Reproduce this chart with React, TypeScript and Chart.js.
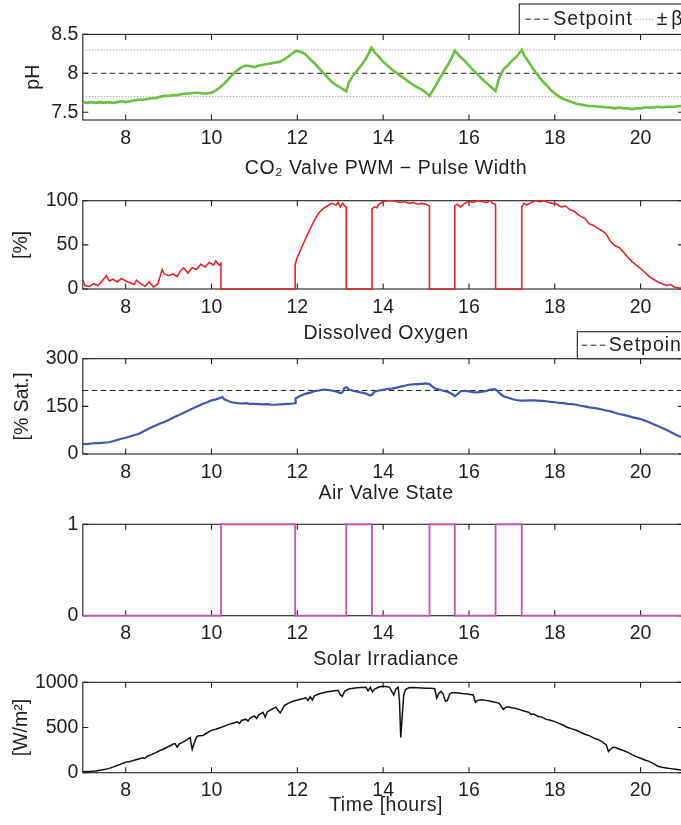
import React, { useEffect, useRef } from 'react';
import { Chart, registerables } from 'chart.js';

Chart.register(...registerables);

// ---------------- data ----------------
const TIME_MIN = 7;
const TIME_MAX = 21;
const xTickValues = [8, 10, 12, 14, 16, 18, 20];
const xTickLabels = ['8', '10', '12', '14', '16', '18', '20'];

const phTicks = [7.5, 8, 8.5];
const phTickLabels = ['7.5', '8', '8.5'];
const pwmTicks = [0, 50, 100];
const pwmTickLabels = ['0', '50', '100'];
const doTicks = [0, 150, 300];
const doTickLabels = ['0', '150', '300'];
const valveTicks = [0, 1];
const valveTickLabels = ['0', '1'];
const solarTicks = [0, 500, 1000];
const solarTickLabels = ['0', '500', '1000'];

const phSetpoint = 8;
const phBetaUpper = 8.3;
const phBetaLower = 7.7;
const doSetpoint = 200;

type Pair = [number, number];

const phSeries: Pair[] = [
  [7.0, 7.63], [7.1, 7.62], [7.2, 7.63], [7.3, 7.62], [7.4, 7.63], [7.5, 7.62], [7.6, 7.63], [7.7, 7.62],
  [7.8, 7.63], [7.9, 7.64], [8.0, 7.63], [8.1, 7.64], [8.2, 7.65], [8.3, 7.66], [8.4, 7.66], [8.5, 7.67],
  [8.6, 7.68], [8.7, 7.68], [8.8, 7.70], [8.9, 7.71], [9.0, 7.71], [9.1, 7.72], [9.2, 7.72], [9.3, 7.73],
  [9.4, 7.74], [9.5, 7.74], [9.6, 7.75], [9.7, 7.75], [9.8, 7.74], [9.9, 7.74], [10.0, 7.75], [10.1, 7.78],
  [10.2, 7.82], [10.3, 7.87], [10.4, 7.93], [10.5, 7.99], [10.6, 8.04], [10.7, 8.08], [10.8, 8.10], [10.9, 8.09],
  [11.0, 8.08], [11.1, 8.10], [11.2, 8.11], [11.3, 8.12], [11.4, 8.13], [11.5, 8.14], [11.6, 8.15], [11.7, 8.18],
  [11.8, 8.22], [11.9, 8.26], [11.97, 8.29], [12.1, 8.27], [12.2, 8.24], [12.3, 8.18], [12.4, 8.13], [12.5, 8.07],
  [12.6, 8.01], [12.7, 7.95], [12.8, 7.89], [12.9, 7.85], [13.0, 7.82], [13.14, 7.77], [13.2, 7.88], [13.3, 7.97],
  [13.4, 8.04], [13.5, 8.11], [13.6, 8.19], [13.73, 8.33], [13.8, 8.27], [13.9, 8.21], [14.0, 8.15], [14.1, 8.10],
  [14.2, 8.05], [14.3, 8.01], [14.4, 7.97], [14.5, 7.93], [14.6, 7.89], [14.7, 7.85], [14.8, 7.82], [14.9, 7.79],
  [15.0, 7.75], [15.08, 7.71], [15.2, 7.82], [15.3, 7.92], [15.4, 8.01], [15.5, 8.10], [15.6, 8.20], [15.67, 8.29],
  [15.8, 8.21], [15.9, 8.16], [16.0, 8.10], [16.1, 8.04], [16.2, 7.99], [16.3, 7.93], [16.4, 7.88], [16.5, 7.83],
  [16.62, 7.77], [16.7, 7.93], [16.8, 8.05], [16.9, 8.10], [17.0, 8.16], [17.1, 8.21], [17.23, 8.30], [17.3, 8.22],
  [17.4, 8.14], [17.5, 8.05], [17.6, 7.98], [17.7, 7.91], [17.8, 7.85], [17.9, 7.79], [18.0, 7.74], [18.1, 7.70],
  [18.2, 7.67], [18.3, 7.65], [18.4, 7.63], [18.5, 7.61], [18.6, 7.60], [18.7, 7.59], [18.8, 7.58], [18.9, 7.58],
  [19.0, 7.57], [19.1, 7.57], [19.2, 7.56], [19.3, 7.56], [19.4, 7.55], [19.5, 7.56], [19.6, 7.55], [19.7, 7.55],
  [19.8, 7.54], [19.9, 7.55], [20.0, 7.55], [20.1, 7.56], [20.2, 7.56], [20.3, 7.56], [20.4, 7.57], [20.5, 7.56],
  [20.6, 7.57], [20.7, 7.57], [20.8, 7.57], [20.9, 7.58], [21.0, 7.58],
];

const pwmSeries: Pair[] = [
  [7.0, 10], [7.05, 4], [7.15, 3], [7.25, 6], [7.35, 4], [7.45, 9], [7.55, 15], [7.62, 9], [7.7, 11], [7.8, 8],
  [7.9, 12], [8.0, 9], [8.1, 7], [8.2, 5], [8.25, 10], [8.35, 6], [8.45, 3], [8.55, 8], [8.65, 2], [8.75, 6],
  [8.8, 14], [8.85, 22], [8.9, 17], [9.0, 15], [9.1, 17], [9.2, 14], [9.28, 21], [9.35, 24], [9.45, 18], [9.55, 24],
  [9.65, 22], [9.75, 28], [9.85, 25], [9.95, 30], [10.05, 27], [10.1, 32], [10.18, 27], [10.22, 29], [10.22, 0],
  [11.95, 0], [11.95, 28], [12.0, 36], [12.1, 47], [12.2, 58], [12.3, 68], [12.4, 78], [12.5, 86], [12.6, 91],
  [12.7, 94], [12.8, 97], [12.9, 95], [12.95, 98], [13.0, 93], [13.05, 97], [13.1, 94], [13.14, 93], [13.14, 0],
  [13.74, 0], [13.74, 91], [13.8, 93], [13.85, 92], [13.9, 96], [14.0, 99], [14.1, 100], [14.2, 100], [14.3, 99],
  [14.4, 98], [14.5, 99], [14.6, 97], [14.7, 98], [14.8, 96], [14.9, 97], [15.0, 96], [15.08, 94], [15.08, 0],
  [15.67, 0], [15.67, 94], [15.72, 96], [15.8, 93], [15.9, 97], [16.0, 99], [16.1, 98], [16.2, 100], [16.3, 99],
  [16.4, 98], [16.5, 100], [16.55, 97], [16.62, 96], [16.62, 0], [17.23, 0], [17.23, 93], [17.28, 97], [17.35, 95],
  [17.45, 98], [17.55, 100], [17.65, 99], [17.75, 100], [17.85, 98], [17.95, 97], [18.05, 96], [18.15, 93],
  [18.25, 94], [18.35, 90], [18.45, 88], [18.55, 84], [18.62, 82], [18.7, 80], [18.8, 74], [18.9, 72], [19.0, 69],
  [19.1, 66], [19.2, 62], [19.3, 54], [19.4, 49], [19.5, 47], [19.6, 42], [19.7, 36], [19.8, 31], [19.9, 27],
  [20.0, 23], [20.1, 19], [20.2, 14], [20.3, 11], [20.4, 8], [20.5, 6], [20.6, 4], [20.7, 5], [20.8, 2], [20.9, 1],
  [21.0, 1],
];

const doSeries: Pair[] = [
  [7.0, 32], [7.1, 31], [7.2, 33], [7.3, 34], [7.4, 34], [7.5, 36], [7.6, 37], [7.7, 40], [7.8, 44], [7.9, 48],
  [8.0, 51], [8.1, 55], [8.2, 60], [8.3, 63], [8.4, 70], [8.5, 77], [8.6, 84], [8.7, 90], [8.8, 96], [8.9, 101],
  [9.0, 107], [9.1, 114], [9.2, 120], [9.3, 127], [9.4, 133], [9.5, 139], [9.6, 146], [9.7, 152], [9.8, 158],
  [9.9, 163], [10.0, 169], [10.1, 172], [10.2, 176], [10.25, 180], [10.3, 172], [10.4, 166], [10.5, 162],
  [10.6, 160], [10.7, 159], [10.8, 160], [10.9, 158], [11.0, 158], [11.1, 157], [11.2, 156], [11.3, 157],
  [11.4, 155], [11.5, 155], [11.6, 156], [11.7, 157], [11.8, 158], [11.9, 159], [11.95, 160], [11.96, 175],
  [12.0, 178], [12.1, 185], [12.2, 190], [12.3, 193], [12.4, 198], [12.5, 200], [12.6, 203], [12.7, 202],
  [12.8, 200], [12.9, 197], [13.0, 192], [13.05, 194], [13.1, 208], [13.15, 210], [13.2, 203], [13.3, 199],
  [13.4, 196], [13.5, 193], [13.6, 190], [13.7, 184], [13.75, 188], [13.8, 196], [13.9, 200], [14.0, 202],
  [14.1, 205], [14.2, 206], [14.3, 208], [14.4, 212], [14.5, 215], [14.6, 218], [14.7, 219], [14.8, 220],
  [14.9, 221], [15.0, 222], [15.08, 220], [15.15, 212], [15.2, 207], [15.3, 203], [15.4, 199], [15.5, 196],
  [15.6, 190], [15.67, 182], [15.75, 190], [15.8, 197], [15.9, 199], [16.0, 197], [16.1, 195], [16.2, 194],
  [16.3, 196], [16.4, 198], [16.5, 203], [16.6, 204], [16.65, 200], [16.7, 193], [16.8, 182], [16.9, 178],
  [17.0, 173], [17.1, 170], [17.2, 168], [17.3, 168], [17.4, 169], [17.5, 169], [17.6, 168], [17.7, 167],
  [17.8, 166], [17.9, 164], [18.0, 163], [18.1, 161], [18.2, 160], [18.3, 158], [18.4, 157], [18.5, 155],
  [18.6, 152], [18.7, 150], [18.8, 147], [18.9, 145], [19.0, 143], [19.1, 140], [19.2, 137], [19.3, 134],
  [19.4, 130], [19.5, 126], [19.6, 123], [19.7, 120], [19.8, 116], [19.9, 113], [20.0, 110], [20.1, 105],
  [20.2, 100], [20.3, 94], [20.4, 88], [20.5, 82], [20.6, 76], [20.7, 69], [20.8, 62], [20.9, 56], [21.0, 52],
];

const valveTimes = [7, 10.22, 11.95, 13.14, 13.74, 15.08, 15.67, 16.62, 17.23, 21];
const valveStates = [0, 1, 0, 1, 0, 1, 0, 1, 0, 0];

const solarSeries: Pair[] = [
  [7.0, 10], [7.1, 12], [7.2, 15], [7.3, 20], [7.4, 28], [7.5, 36], [7.6, 45], [7.7, 62], [7.8, 80], [7.9, 98],
  [8.0, 115], [8.1, 125], [8.2, 138], [8.3, 152], [8.4, 165], [8.45, 158], [8.5, 182], [8.6, 200], [8.7, 222],
  [8.8, 245], [8.9, 265], [9.0, 290], [9.1, 315], [9.15, 322], [9.2, 282], [9.25, 318], [9.3, 330], [9.4, 355],
  [9.45, 375], [9.5, 388], [9.55, 260], [9.6, 330], [9.65, 395], [9.7, 410], [9.8, 412], [9.9, 442], [10.0, 468],
  [10.1, 480], [10.2, 498], [10.3, 515], [10.4, 535], [10.5, 548], [10.6, 562], [10.65, 545], [10.7, 578],
  [10.8, 592], [10.85, 570], [10.9, 605], [11.0, 628], [11.05, 600], [11.1, 640], [11.2, 668], [11.25, 615],
  [11.3, 672], [11.4, 700], [11.5, 725], [11.55, 690], [11.6, 660], [11.65, 700], [11.7, 745], [11.8, 770],
  [11.9, 790], [12.0, 805], [12.1, 815], [12.2, 828], [12.25, 800], [12.3, 840], [12.35, 805], [12.4, 850],
  [12.5, 870], [12.6, 885], [12.7, 895], [12.8, 902], [12.9, 908], [12.95, 912], [13.0, 860], [13.05, 845],
  [13.1, 900], [13.2, 925], [13.3, 935], [13.4, 940], [13.5, 942], [13.6, 945], [13.65, 905], [13.7, 945],
  [13.75, 895], [13.8, 925], [13.9, 948], [14.0, 955], [14.1, 952], [14.15, 945], [14.2, 900], [14.25, 860],
  [14.3, 930], [14.35, 945], [14.38, 800], [14.41, 390], [14.44, 600], [14.48, 860], [14.52, 920], [14.6, 940],
  [14.7, 942], [14.8, 940], [14.9, 938], [15.0, 935], [15.1, 935], [15.2, 930], [15.25, 825], [15.3, 880],
  [15.35, 900], [15.4, 870], [15.45, 790], [15.5, 800], [15.55, 870], [15.6, 885], [15.7, 885], [15.8, 880],
  [15.9, 872], [16.0, 868], [16.1, 860], [16.15, 780], [16.2, 800], [16.3, 808], [16.4, 800], [16.5, 790],
  [16.6, 780], [16.7, 770], [16.8, 700], [16.85, 720], [16.9, 728], [17.0, 718], [17.1, 710], [17.2, 695],
  [17.3, 680], [17.4, 668], [17.45, 645], [17.5, 650], [17.6, 625], [17.7, 615], [17.8, 590], [17.9, 580],
  [18.0, 565], [18.1, 545], [18.2, 525], [18.3, 500], [18.4, 485], [18.5, 470], [18.6, 448], [18.7, 425],
  [18.8, 410], [18.9, 385], [19.0, 368], [19.1, 345], [19.15, 325], [19.2, 310], [19.25, 235], [19.3, 260],
  [19.35, 280], [19.4, 282], [19.5, 262], [19.6, 245], [19.7, 225], [19.8, 200], [19.9, 178], [20.0, 160],
  [20.1, 140], [20.2, 125], [20.3, 100], [20.4, 72], [20.5, 60], [20.6, 52], [20.7, 45], [20.8, 38], [20.9, 32],
  [21.0, 28],
];

// ---------------- styling ----------------
const FONT_FAMILY = "'Liberation Sans', Arial, Helvetica, sans-serif";
const FONT_SIZE = 19.5;
const INK = '#1f1f1f';
const CANVAS_W = 700;
const PLOT_LEFT = 82.8;
const PLOT_RIGHT = 683.5;
const TITLE_X = 386;
const TICK_LEN = 5.5;

const GREEN = '#6cc040';
const RED = '#e3262b';
const BLUE = '#4057b2';
const MAGENTA = '#c552b0';

const toXY = (pairs: Pair[]) => pairs.map(([x, y]) => ({ x, y }));
const flat = (v: number) => [{ x: TIME_MIN, y: v }, { x: TIME_MAX, y: v }];
const font = { family: FONT_FAMILY, size: FONT_SIZE };

const dashedSet = (label: string, v: number) => ({
  label, data: flat(v), borderColor: INK, borderWidth: 1, borderDash: [5.5, 3.5],
});
const dottedSet = (label: string, v: number) => ({
  label, data: flat(v), borderColor: '#a6a6a6', borderWidth: 1, borderDash: [1.5, 1.5],
});

interface LegendSpec { left: number; height: number; items: number[]; samples: number[]; inset: number }
interface PanelSpec {
  key: string; top: number; height: number; plotTop: number; xAxisHeight: number;
  yMin: number; yMax: number; yTicks: number[]; yTickLabels: string[];
  yTitle?: string; yTitlePad?: number; title?: string; titleY?: number;
  xTitle?: string; xTitleY?: number; legend?: LegendSpec; datasets: any[];
}

const panels: PanelSpec[] = [
  {
    key: 'ph', top: 0, height: 150, plotTop: 34.4, xAxisHeight: 30,
    yMin: 7.4, yMax: 8.5, yTicks: phTicks, yTickLabels: phTickLabels,
    yTitle: 'pH', yTitlePad: 21.5,
    legend: { left: 519.3, height: 30.4, items: [1, 2], samples: [26, 21], inset: 6 },
    datasets: [
      { label: 'pH', data: toXY(phSeries), borderColor: GREEN, borderWidth: 2.6 },
      dashedSet('Setpoint', phSetpoint),
      dottedSet('±\u200Aβ', phBetaUpper),
      dottedSet('', phBetaLower),
    ],
  },
  {
    key: 'pwm', top: 150, height: 165, plotTop: 50.7, xAxisHeight: 26,
    yMin: 0, yMax: 100, yTicks: pwmTicks, yTickLabels: pwmTickLabels,
    yTitle: '[%]', yTitlePad: 9.5,
    title: 'CO₂ Valve PWM − Pulse Width', titleY: 19,
    datasets: [{ label: 'Pulse width', data: toXY(pwmSeries), borderColor: RED, borderWidth: 1.6 }],
  },
  {
    key: 'do', top: 315, height: 165, plotTop: 43.7, xAxisHeight: 26,
    yMin: 0, yMax: 300, yTicks: doTicks, yTickLabels: doTickLabels,
    yTitle: '[% Sat.]', yTitlePad: 11,
    title: 'Dissolved Oxygen', titleY: 19,
    legend: { left: 577.3, height: 27, items: [1], samples: [25], inset: 4.5 },
    datasets: [
      { label: 'Dissolved oxygen', data: toXY(doSeries), borderColor: BLUE, borderWidth: 2.2 },
      dashedSet('Setpoint', doSetpoint),
    ],
  },
  {
    key: 'valve', top: 480, height: 165, plotTop: 44.3, xAxisHeight: 29.3,
    yMin: 0, yMax: 1, yTicks: valveTicks, yTickLabels: valveTickLabels,
    title: 'Air Valve State', titleY: 14,
    datasets: [{
      label: 'Air valve', data: valveTimes.map((t, i) => ({ x: t, y: valveStates[i] })),
      stepped: true, borderColor: MAGENTA, borderWidth: 1.8,
    }],
  },
  {
    key: 'solar', top: 645, height: 180, plotTop: 37.3, xAxisHeight: 52.3,
    yMin: 0, yMax: 1000, yTicks: solarTicks, yTickLabels: solarTickLabels,
    yTitle: '[W/m²]', yTitlePad: 10,
    title: 'Solar Irradiance', titleY: 15,
    xTitle: 'Time [hours]', xTitleY: 161,
    datasets: [{ label: 'Irradiance', data: toXY(solarSeries), borderColor: '#111111', borderWidth: 1.5 }],
  },
];

function makeDecor(p: PanelSpec) {
  return {
    id: 'decor_' + p.key,
    beforeDatasetsDraw(chart: any) {
      const { ctx, chartArea: a } = chart;
      const xs = chart.scales.x;
      const ys = chart.scales.y;
      ctx.save();
      ctx.strokeStyle = INK;
      ctx.lineWidth = 1.1;
      ctx.strokeRect(a.left, a.top, a.right - a.left, a.bottom - a.top);
      ctx.beginPath();
      xs.ticks.forEach((t: any) => {
        const px = xs.getPixelForValue(t.value);
        ctx.moveTo(px, a.bottom); ctx.lineTo(px, a.bottom - TICK_LEN);
        ctx.moveTo(px, a.top); ctx.lineTo(px, a.top + TICK_LEN);
      });
      ys.ticks.forEach((t: any) => {
        const py = ys.getPixelForValue(t.value);
        ctx.moveTo(a.left, py); ctx.lineTo(a.left + TICK_LEN, py);
        ctx.moveTo(a.right, py); ctx.lineTo(a.right - TICK_LEN, py);
      });
      ctx.stroke();
      ctx.restore();
    },
    afterDraw(chart: any) {
      const { ctx, chartArea: a } = chart;
      ctx.save();
      ctx.font = `${FONT_SIZE}px ${FONT_FAMILY}`;
      ctx.fillStyle = INK;
      ctx.textBaseline = 'middle';
      (ctx as any).letterSpacing = '0.5px';
      if (p.title) {
        ctx.textAlign = 'center';
        ctx.fillText(p.title, TITLE_X, p.titleY);
      }
      if (p.xTitle) {
        ctx.textAlign = 'center';
        ctx.fillText(p.xTitle, TITLE_X, p.xTitleY);
      }
      if (p.legend) {
        (ctx as any).letterSpacing = '1px';
        const L = p.legend;
        const top = a.top - L.height;
        const right = a.right;
        ctx.fillStyle = '#ffffff';
        ctx.fillRect(L.left, top, right - L.left, L.height);
        ctx.strokeStyle = INK;
        ctx.lineWidth = 1.1;
        ctx.strokeRect(L.left, top, right - L.left, L.height);
        const cy = top + L.height / 2;
        let x = L.left + L.inset;
        L.items.forEach((idx, k) => {
          const ds = chart.data.datasets[idx];
          const sw = L.samples[k];
          ctx.save();
          ctx.setLineDash(ds.borderDash || []);
          ctx.strokeStyle = ds.borderColor;
          ctx.lineWidth = ds.borderWidth;
          ctx.beginPath();
          ctx.moveTo(x, cy); ctx.lineTo(x + sw, cy);
          ctx.stroke();
          ctx.restore();
          x += sw + 2;
          ctx.fillStyle = INK;
          ctx.textAlign = 'left';
          ctx.fillText(ds.label, x, cy);
          x += ctx.measureText(ds.label).width + 1;
        });
      }
      ctx.restore();
    },
  };
}

function buildConfig(p: PanelSpec): any {
  return {
    type: 'line',
    data: { datasets: p.datasets.map((d) => ({ ...d, pointRadius: 0, tension: 0, fill: false, clip: false })) },
    options: {
      responsive: false,
      animation: false,
      devicePixelRatio: 1,
      events: [],
      layout: { padding: { left: 0, right: CANVAS_W - PLOT_RIGHT, top: p.plotTop, bottom: 0 } },
      plugins: { legend: { display: false }, tooltip: { enabled: false }, title: { display: false } },
      scales: {
        x: {
          type: 'linear', min: TIME_MIN, max: TIME_MAX,
          grid: { display: false, drawTicks: false }, border: { display: false },
          ticks: {
            font, color: INK, padding: 6.5, maxRotation: 0, autoSkip: false,
            callback: (_v: any, i: number) => xTickLabels[i],
          },
          afterBuildTicks: (s: any) => { s.ticks = xTickValues.map((v) => ({ value: v })); },
          afterFit: (s: any) => { s.height = p.xAxisHeight; },
        },
        y: {
          type: 'linear', min: p.yMin, max: p.yMax,
          grid: { display: false, drawTicks: false }, border: { display: false },
          ticks: {
            font, color: INK, padding: 4.5, autoSkip: false,
            callback: (_v: any, i: number) => p.yTickLabels[i],
          },
          afterBuildTicks: (s: any) => { s.ticks = p.yTicks.map((v) => ({ value: v })); },
          afterFit: (s: any) => { s.width = PLOT_LEFT; },
          title: {
            display: !!p.yTitle, text: p.yTitle || '', font, color: INK,
            padding: { top: p.yTitlePad || 0, bottom: 0 },
          },
        },
      },
    },
    plugins: [makeDecor(p)],
  };
}

function Panel({ spec }: { spec: PanelSpec }) {
  const ref = useRef<HTMLCanvasElement>(null);
  useEffect(() => {
    const chart = new Chart(ref.current as HTMLCanvasElement, buildConfig(spec));
    return () => chart.destroy();
  }, [spec]);
  return (
    <canvas
      ref={ref}
      width={CANVAS_W}
      height={spec.height}
      style={{ position: 'absolute', left: 0, top: spec.top, width: CANVAS_W, height: spec.height, display: 'block' }}
    />
  );
}

export default function App() {
  return (
    <div style={{ position: 'absolute', left: 0, top: 0, width: 681, height: 825, overflow: 'hidden', background: '#fff' }}>
      {panels.map((p) => <Panel key={p.key} spec={p} />)}
    </div>
  );
}
